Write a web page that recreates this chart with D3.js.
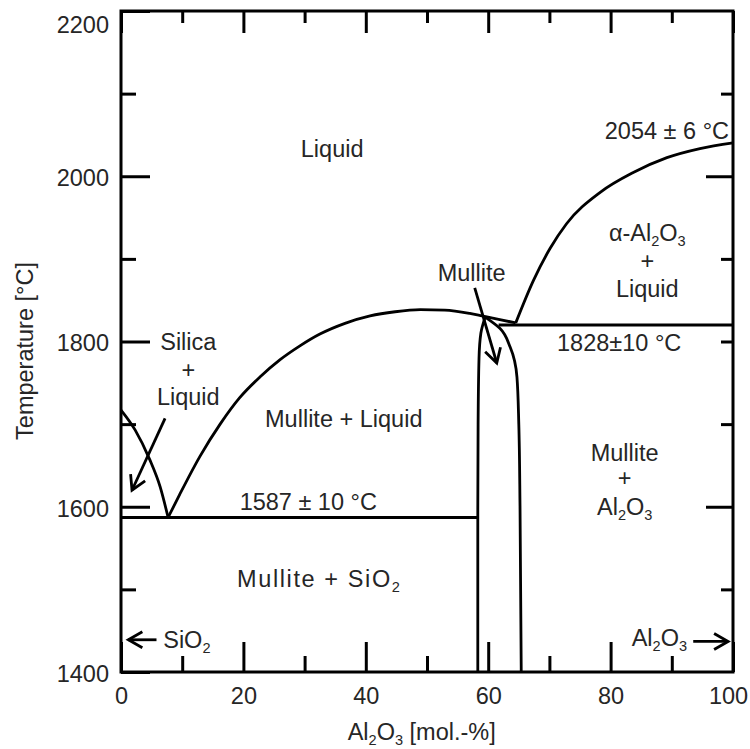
<!DOCTYPE html>
<html>
<head>
<meta charset="utf-8">
<script src="https://cdn.jsdelivr.net/npm/d3@7"></script>
<style>
  body { margin: 0; background: #fff; }
  svg { display: block; font-family: "Liberation Sans", Arial, sans-serif; }
</style>
</head>
<body>
<script>
// phase boundaries, [Al2O3 mol-%, temperature °C]
const silicaLiquidus = [[0,1717],[2.3,1693],[4.7,1657],[6.4,1624],[7.7,1587]];
const mulliteLiquidus = [[7.7,1587],[9.6,1615],[12.9,1661],[16.2,1700],[19.4,1732],[22.7,1757],[26,1778],[29.3,1795],
  [32.5,1809],[36.6,1822],[40.7,1831],[44.8,1836],[48.9,1838.5],[52.9,1838],[57,1834],[59,1831],[61.9,1826.5],[64.5,1822.5]];
const aluminaLiquidus = [[64.5,1822.5],[67.4,1874],[70.1,1912.5],[72.8,1942.5],[78.3,1980.5],[83.7,2004.5],[89.2,2022.5],[94.6,2033.5],[100,2040.5]];
const mulliteLeft = [[58.3,1400],[58.3,1587],[58.35,1700],[58.5,1780],[58.8,1810],[59.5,1829.5]];
const mulliteRight = [[65.4,1400],[65.2,1600],[65.0,1700],[64.7,1757],[63.6,1793],[61.9,1816],[59.5,1829.5]];
const eutectic = [[0,1587],[58.3,1587]];
const peritectic = [[61.7,1820],[100,1820]];

// ticks
const xMajor = [0,20,40,60,80,100];
const xMinor = [10,30,50,70,90];
const yMajor = [1400,1600,1800,2000,2200];
const yMinor = [1500,1700,1900,2100];
const yRightMajor = [1600,2000];
const yRightMinor = [1500,1700,1800,1900,2100];

// annotations: text, x, T, anchor
const labels = [
  ['Liquid', 34.5, 2023],
  ['Mullite + Liquid', 36.4, 1696.5],
  ['Silica', 11.0, 1789.7], ['+', 11.0, 1756.4], ['Liquid', 11.0, 1723.1],
  ['Mullite', 57.3, 1873.6],
  ['2054 ± 6 °C', 89.2, 2044.8],
  ['α-Al_2O_3', 86.0, 1922], ['+', 86.0, 1888], ['Liquid', 86.0, 1854],
  ['1828±10 °C', 81.4, 1789],
  ['Mullite', 82.3, 1655.7], ['+', 82.3, 1624.6], ['Al_2O_3', 82.3, 1590],
  ['1587 ± 10 °C', 30.6, 1596],
  ['Mullite + SiO_2', 32.4, 1502.5],
  ['SiO_2', 6.9, 1429, 'start'],
  ['Al_2O_3', 92.5, 1431.5, 'end'],
];
const arrows = [
  [[7.2,1707],[1.8,1620]],
  [[57.8,1865],[61.4,1774]],
  [[5.8,1439],[1.2,1439]],
  [[93.5,1437],[99.2,1437]],
];

const W = 750, H = 749, FS = 23.5, INK = '#262626';
const x = d3.scaleLinear().domain([0,100]).range([121,733]);
const y = d3.scaleLinear().domain([1400,2200]).range([672,11]);

const svg = d3.select('body').append('svg').attr('width', W).attr('height', H);

svg.append('defs').append('marker')
  .attr('id','head')
  .attr('viewBox','-16 -10 20 20')
  .attr('refX',0).attr('refY',0)
  .attr('markerWidth',20).attr('markerHeight',20)
  .attr('markerUnits','userSpaceOnUse')
  .attr('orient','auto')
  .style('overflow','visible')
  .append('path')
  .attr('d','M-14,-8 L0,0 L-14,8')
  .attr('fill','none').attr('stroke','#000').attr('stroke-width',2.8);

function richText(sel, str) {
  const parts = str.split(/(_\d)/).filter(Boolean);
  let prevSub = false;
  parts.forEach(p => {
    const sub = p[0] === '_';
    const t = sel.append('tspan').text(sub ? p.slice(1) : p);
    if (sub) t.attr('font-size', FS*0.62).attr('dy', 5);
    else if (prevSub) t.attr('dy', -5);
    prevSub = sub;
  });
}

// axes (ticks point inward)
function styleAxis(g) {
  g.select('.domain').remove();
  g.attr('font-size', FS).attr('font-family', '"Liberation Sans", Arial, sans-serif');
  g.selectAll('.tick line').attr('stroke','#000').attr('stroke-width',3);
  g.selectAll('.tick text').attr('fill', INK);
}
svg.append('g').attr('transform','translate(0,672)')
  .call(d3.axisBottom(x).tickValues(xMajor).tickSize(-30).tickPadding(15).tickFormat(d3.format('d')))
  .call(styleAxis)
  .call(g => g.selectAll('.tick text').filter(d => d === 100).attr('dx', -5));
svg.append('g').attr('transform','translate(0,672)')
  .call(d3.axisBottom(x).tickValues(xMinor).tickSize(-16).tickFormat(''))
  .call(styleAxis);
svg.append('g').attr('transform','translate(0,11)')
  .call(d3.axisTop(x).tickValues(xMajor).tickSize(-22).tickFormat(''))
  .call(styleAxis);
svg.append('g').attr('transform','translate(0,11)')
  .call(d3.axisTop(x).tickValues(xMinor).tickSize(-12).tickFormat(''))
  .call(styleAxis);
svg.append('g').attr('transform','translate(121,0)')
  .call(d3.axisLeft(y).tickValues(yMajor).tickSize(-29).tickPadding(12).tickFormat(d3.format('d')))
  .call(styleAxis)
  .call(g => g.selectAll('.tick text').attr('dy', d => d === 2200 ? '0.9em' : '0.4em'));
svg.append('g').attr('transform','translate(121,0)')
  .call(d3.axisLeft(y).tickValues(yMinor).tickSize(-15).tickFormat(''))
  .call(styleAxis);
svg.append('g').attr('transform','translate(733,0)')
  .call(d3.axisRight(y).tickValues(yRightMajor).tickSize(-27).tickFormat(''))
  .call(styleAxis);
svg.append('g').attr('transform','translate(733,0)')
  .call(d3.axisRight(y).tickValues(yRightMinor).tickSize(-12).tickFormat(''))
  .call(styleAxis);

svg.append('rect')
  .attr('x', x(0)).attr('y', y(2200))
  .attr('width', x(100) - x(0)).attr('height', y(1400) - y(2200))
  .attr('fill','none').attr('stroke','#000').attr('stroke-width',3);

// boundaries: liquidus curves are functions of x, mullite limits functions of T
const lineX = d3.line().x(d => x(d[0])).y(d => y(d[1])).curve(d3.curveMonotoneX);
const lineT = d3.line().x(d => x(d[0])).y(d => y(d[1])).curve(d3.curveMonotoneY);
const bounds = svg.append('g')
  .attr('fill','none').attr('stroke','#000').attr('stroke-width',2.8).attr('stroke-linejoin','round');
bounds.selectAll('path.fx')
  .data([silicaLiquidus, mulliteLiquidus, aluminaLiquidus, eutectic, peritectic])
  .join('path').attr('class','fx')
  .attr('d', lineX);
bounds.selectAll('path.ft')
  .data([mulliteLeft, mulliteRight])
  .join('path').attr('class','ft')
  .attr('d', lineT);

// arrows
svg.append('g')
  .attr('stroke','#000').attr('stroke-width',2.8)
  .selectAll('line')
  .data(arrows)
  .join('line')
  .attr('x1', d => x(d[0][0])).attr('y1', d => y(d[0][1]))
  .attr('x2', d => x(d[1][0])).attr('y2', d => y(d[1][1]))
  .attr('marker-end','url(#head)');

// region labels
const lg = svg.append('g').attr('font-size', FS).attr('fill', INK);
labels.forEach(([txt, lx, lt, anchor]) => {
  const t = lg.append('text')
    .attr('x', x(lx)).attr('y', y(lt))
    .attr('text-anchor', anchor || 'middle');
  if (txt === 'Mullite + SiO_2') t.attr('letter-spacing', 1.6);
  richText(t, txt);
});

// axis titles
const xt = svg.append('text')
  .attr('x', 421.7).attr('y', 740)
  .attr('text-anchor','middle').attr('font-size', FS).attr('fill', INK);
richText(xt, 'Al_2O_3 [mol.-%]');
svg.append('text')
  .attr('transform','translate(33,351) rotate(-90)')
  .attr('text-anchor','middle').attr('font-size', FS).attr('fill', INK)
  .text('Temperature [°C]');
</script>
</body>
</html>
